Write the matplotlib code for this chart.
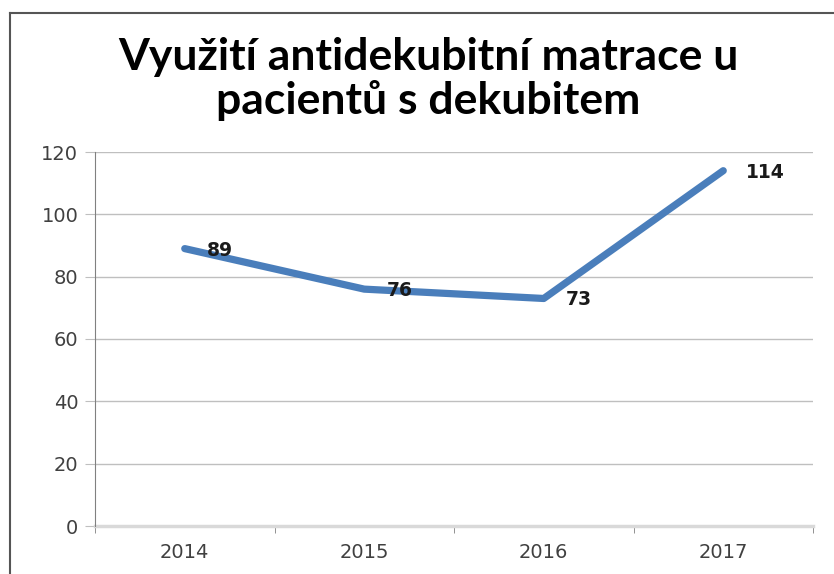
import numpy as np
import matplotlib.pyplot as plt
from matplotlib.lines import Line2D

years = ["2014", "2015", "2016", "2017"]
values = [89, 76, 73, 114]
yticks = [0, 20, 40, 60, 80, 100, 120]
title = "Využití antidekubitní matrace u\npacientů s dekubitem"

fig = plt.figure(figsize=(8.34, 5.74), dpi=100)
ax = fig.add_axes([95 / 834, 1 - 526 / 574, 718 / 834, 374 / 574])

x = np.arange(len(years))
ax.plot(x, values, color="#4A7EBB", lw=5.2, solid_capstyle="round", solid_joinstyle="round", zorder=3)
for xi, v in zip(x, values):
    ax.annotate(str(v), (xi, v), xytext=(16, -1), textcoords="offset points",
                ha="left", va="center", fontsize=13.5, fontweight="bold", color="#1a1a1a")

ax.set_xlim(-0.5, 3.5)
ax.set_ylim(0, 120)
ax.set_yticks(yticks)
ax.set_xticks(x)
ax.set_xticklabels(years)
ax.set_xticks(np.arange(-0.5, 4, 1), minor=True)
ax.tick_params(axis="x", which="major", length=0, pad=12, labelsize=14, labelcolor="#404040")
ax.tick_params(axis="x", which="minor", length=5, color="#808080", direction="out")
ax.tick_params(axis="y", length=7, color="#BFBFBF", pad=5, labelsize=14, labelcolor="#404040")
ax.grid(axis="y", color="#BFBFBF", lw=1)
for s in ["top", "right", "bottom"]:
    ax.spines[s].set_visible(False)
ax.spines["left"].set_color("#808080")
ax.axhline(0, color="#D9D9D9", lw=2.5, zorder=2, clip_on=False)

fig.text(428 / 834, 1 - 79 / 574, title, ha="center", va="center", fontsize=32,
         fontweight="bold", family="Lato", linespacing=1.1)

# outer chart border (left and top)
fig.add_artist(Line2D([10 / 834, 10 / 834], [0, 1 - 13 / 574], color="#555555", lw=1.5))
fig.add_artist(Line2D([10 / 834, 1], [1 - 13 / 574, 1 - 13 / 574], color="#555555", lw=1.5))

fig.savefig("out.png", dpi=100)
